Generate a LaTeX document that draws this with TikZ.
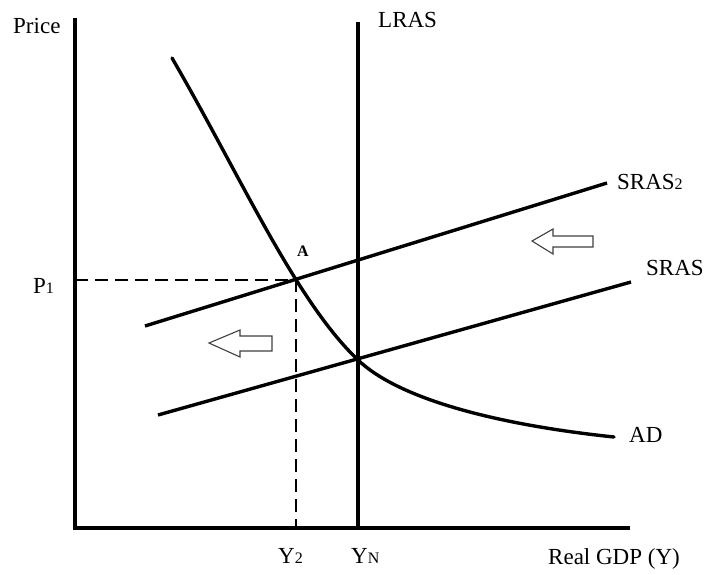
\documentclass[tikz,border=0pt]{standalone}
\usepackage{fontspec}
\setmainfont{Liberation Serif}
\newcommand{\lbl}{\fontsize{23}{27}\selectfont}
\newcommand{\smallsub}[1]{{\fontsize{16}{18}\selectfont #1}}
\begin{document}
\begin{tikzpicture}[x=1pt,y=-1pt,
  curve/.style={line width=3.4pt,black},
  guide/.style={line width=1.3pt,dash pattern=on 13pt off 7pt},
  shiftarrow/.style={draw=black!75,line width=1.1pt,fill=white,line join=miter},
  txt/.style={inner sep=0pt,anchor=base west,font=\lbl}]
\useasboundingbox (0,0) rectangle (706,574);
% axes
\coordinate (O) at (75,528);
\coordinate (Ytop) at (75,18);
\coordinate (Xend) at (630,528);
\draw[curve] (Ytop) -- (O) -- (Xend);
% key points
\coordinate (A) at (296,280);
\coordinate (E) at (358,360);
\coordinate (P1) at (75,280);
\coordinate (Y2) at (296,528);
% dashed guides
\draw[guide] (P1) -- (A) -- (Y2);
% LRAS
\coordinate (Ltop) at (358,22);
\coordinate (Lbot) at (358,528);
\draw[curve] (Ltop) -- (Lbot);
% SRAS curves
\coordinate (S1a) at (158,415);
\coordinate (S1b) at (631,282);
\coordinate (S2a) at (145,326);
\coordinate (S2b) at (607,183);
\draw[curve] (S1a) -- (S1b);
\draw[curve] (S2a) -- (S2b);
% AD
\coordinate (ADtop) at (172,58);
\coordinate (ADend) at (614,437);
\draw[curve,line cap=round] (ADtop) .. controls (240,175) and (295,300) .. (E)
  .. controls (400,400) and (500,425) .. (ADend);
% shift arrows
\draw[shiftarrow] (532,241) -- (553,229) -- (553,236) -- (593,236) -- (593,247) -- (553,247) -- (553,254) -- cycle;
\draw[shiftarrow] (209,343) -- (240,330) -- (240,336) -- (272,336) -- (272,351) -- (240,351) -- (240,357) -- cycle;
% labels
\node[txt] (price) at (13,33) {Price};
\node[txt] (p1) at (33,293) {P\smallsub{1}};
\node[txt] (lras) at (378,27) {LRAS};
\node[txt] (sras2) at (617,189) {SRAS\smallsub{2}};
\node[txt] (sras) at (646,275) {SRAS};
\node[txt] (ad) at (629,442) {AD};
\node[inner sep=0pt,anchor=base west,font=\fontsize{16}{18}\selectfont\bfseries] (alab) at (297,256) {A};
\node[txt] (y2) at (278,563) {Y\smallsub{2}};
\node[txt] (yn) at (351,563) {Y\smallsub{N}};
\node[txt] (gdp) at (548,564) {Real GDP (Y)};
\end{tikzpicture}
\end{document}
